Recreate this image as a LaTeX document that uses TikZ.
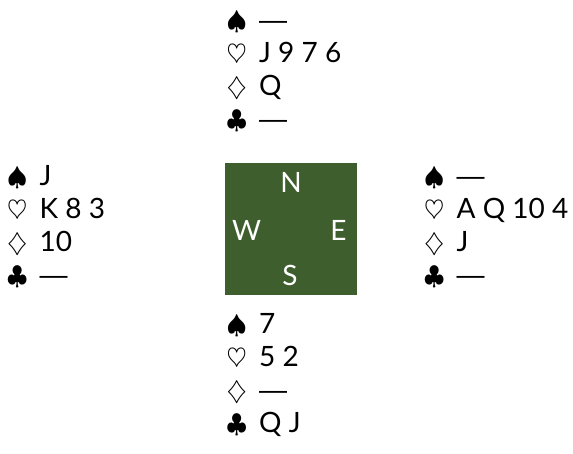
\documentclass[tikz,border=0pt]{standalone}
\usepackage{graphicx}
\usepackage{fontspec}
\setmainfont{Lato}
\newfontfamily\dashfont{Liberation Sans}
\definecolor{felt}{RGB}{63,94,45}
\newcommand\suitrow[2]{\makebox[32.5pt][l]{\fontsize{24.88}{28}\selectfont\scalebox{1.045}{$#1$}}#2}
\newcommand\nil{{\dashfont —}}
\begin{document}
\begin{tikzpicture}[x=1pt,y=-1pt,
  card/.style={anchor=base west, inner sep=0pt, font=\fontsize{28}{32}\selectfont},
  seat/.style={text=white, inner sep=0pt, font=\fontsize{28}{32}\selectfont}]
\useasboundingbox (0,0) rectangle (573,453);
\fill[felt] (225,163) rectangle (357,295);
\node[seat] (lblN) at (291,182) {N};
\node[seat] (lblW) at (246.5,230) {W};
\node[seat] (lblE) at (338.5,230) {E};
\node[seat] (lblS) at (290,275) {S};
% North
\node[card] (n1) at (226.5,29) {\suitrow{\spadesuit}{\nil}};
\node[card] (n2) at (226.5,62) {\suitrow{\heartsuit}{J 9 7 6}};
\node[card] (n3) at (226.5,95) {\suitrow{\diamondsuit}{Q}};
\node[card] (n4) at (226.5,128) {\suitrow{\clubsuit}{\nil}};
% West
\node[card] (w1) at (7,185) {\suitrow{\spadesuit}{J}};
\node[card] (w2) at (7,218) {\suitrow{\heartsuit}{K 8 3}};
\node[card] (w3) at (7,251) {\suitrow{\diamondsuit}{10}};
\node[card] (w4) at (7,284) {\suitrow{\clubsuit}{\nil}};
% East
\node[card] (e1) at (424,185) {\suitrow{\spadesuit}{\nil}};
\node[card] (e2) at (424,218) {\suitrow{\heartsuit}{A Q 10 4}};
\node[card] (e3) at (424,251) {\suitrow{\diamondsuit}{J}};
\node[card] (e4) at (424,284) {\suitrow{\clubsuit}{\nil}};
% South
\node[card] (s1) at (226.5,333) {\suitrow{\spadesuit}{7}};
\node[card] (s2) at (226.5,366) {\suitrow{\heartsuit}{5 2}};
\node[card] (s3) at (226.5,399) {\suitrow{\diamondsuit}{\nil}};
\node[card] (s4) at (226.5,432) {\suitrow{\clubsuit}{Q J}};
\end{tikzpicture}
\end{document}
